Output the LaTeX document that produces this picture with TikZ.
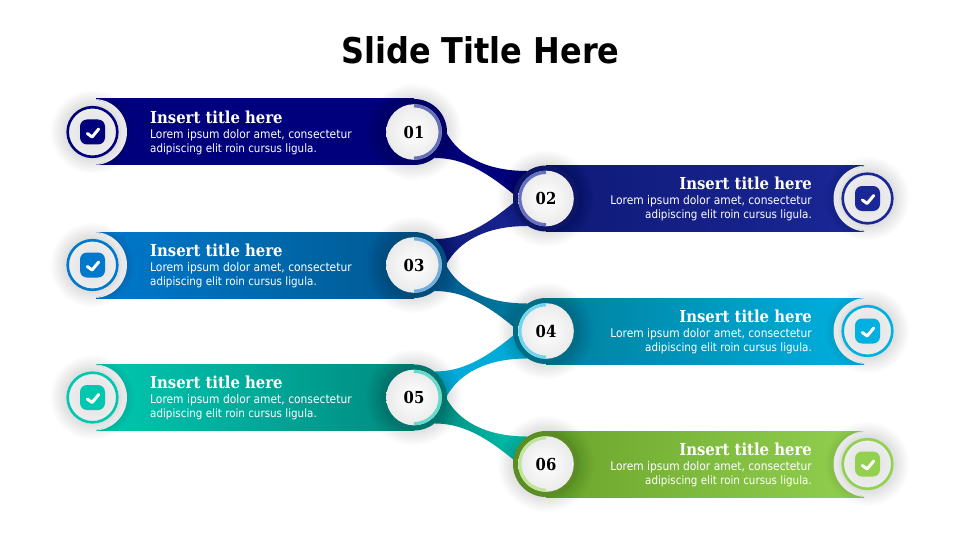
\documentclass[tikz,border=0pt]{standalone}
\usepackage{fontspec}
\setmainfont{DejaVu Sans Condensed}
\newfontfamily\headfont{DejaVu Serif Condensed}
\usetikzlibrary{calc}
\definecolor{dkA}{HTML}{00007C}\definecolor{ltA}{HTML}{00007C}\definecolor{acA}{HTML}{6670B8}
\definecolor{dkB}{HTML}{0F1A78}\definecolor{ltB}{HTML}{1A2796}\definecolor{acB}{HTML}{6670C0}
\definecolor{dkC}{HTML}{005A92}\definecolor{ltC}{HTML}{0078CC}\definecolor{acC}{HTML}{74AEDC}
\definecolor{dkD}{HTML}{00809E}\definecolor{ltD}{HTML}{00B0E0}\definecolor{acD}{HTML}{70D4EE}
\definecolor{dkE}{HTML}{008A80}\definecolor{ltE}{HTML}{00C8B0}\definecolor{acE}{HTML}{66D8CC}
\definecolor{dkF}{HTML}{6CA62C}\definecolor{ltF}{HTML}{92D050}\definecolor{acF}{HTML}{C0E49A}
\tikzset{
	numdisc/.style={circle,minimum size=55.6pt,inner sep=0pt,inner color=white,outer color=black!8,font=\headfont\fontsize{16.5}{16.5}\bfseries},
	headtext/.style={inner sep=0pt,font=\headfont\fontsize{16.5}{16.5}\bfseries,text=white},
	bodytext/.style={inner sep=0pt,font=\fontsize{11.9}{14}\selectfont,text=white},
	icondisc/.style={circle,minimum size=49.6pt,inner sep=0pt,line width=2.6pt,inner color=black!12,outer color=black!7},
	iconbox/.style={rounded corners=7pt,minimum size=25pt,inner sep=0pt},
	crescent/.style={fill=black!9},
}
% soft shadow round a disc
\newcommand{\softshade}[2]{
	\foreach \r in {0,1.5,...,15}{
		\fill[black,opacity=0.011] (#1) circle (#2pt+\r pt);
	}
}
% curved link from disc #1 to the disc #2 on its right, #3 = 1 down, -1 up
\newcommand{\curvelink}[4]{
	\shade[#4] ($(#1)+(32,{#3*0})$) .. controls ($(#1)+(44,{#3*23})$) and ($(#2)+(-61,{#3*-27.5})$) .. ($(#2)+(-19,{#3*-27.5})$)
		-- ($(#2)+(-31,{#3*-3})$) .. controls ($(#2)+(-61,{#3*-28})$) and ($(#1)+(48,{#3*26})$) .. ($(#1)+(21,{#3*26})$) -- cycle;
}
\newcommand{\rowbody}{Lorem ipsum dolor amet, consectetur\\{\fontsize{11.5}{14}\selectfont adipiscing elit roin cursus ligula.}}
\begin{document}
\begin{tikzpicture}[x=1pt,y=-1pt,line join=round,line cap=round]
	\useasboundingbox (0,0) rectangle (960,540);
	\fill[white] (0,0) rectangle (960,540);
	\node[font=\fontsize{35.5}{35.5}\bfseries] (slidetitle) at (480.5,50) {Slide Title Here};
	% places of the number discs
	\foreach \i/\x/\y in {1/414/132,2/546/198.5,3/414/265,4/546/331,5/414/397.5,6/546/464}{
		\coordinate (P\i) at (\x,\y);
	}
	\curvelink{P1}{P2}{1}{left color=dkA,right color=dkA}
	\curvelink{P3}{P2}{-1}{left color=dkB,right color=ltB}
	\curvelink{P3}{P4}{1}{left color=dkC,right color=dkD}
	\curvelink{P5}{P4}{-1}{left color=ltD!90!dkD,right color=ltD!90!dkD}
	\curvelink{P5}{P6}{1}{left color=dkE,right color=ltE}
	% left rows
	\foreach \i/\c in {1/A,3/C,5/E}{
		\shade[left color=lt\c,right color=dk\c] ($(P\i)+(-318,-33)$) rectangle ($(P\i)+(0,33)$);
		\fill[white] ($(P\i)+(-324,0)$) circle (33pt);
		\softshade{$(P\i)+(-321.5,0)$}{27}
		\fill[crescent] ($(P\i)+(-320,0)$) ++(-88:33) arc (-88:88:33) arc (78:-78:33.7) -- cycle;
		\softshade{P\i}{33}
		\fill[dk\c!85!black] (P\i) circle (33pt);
		\node[numdisc] (num\i) at (P\i) {0\i};
		\draw[ac\c,line width=3.2pt,line cap=butt] ($(P\i)+(0,-26.2)$) arc (-90:90:26.2);
		\node[icondisc,draw=lt\c] (ring\i) at ($(P\i)+(-321.5,0)$) {};
		\node[iconbox,fill=lt\c] (badge\i) at (ring\i) {};
		\draw[white,line width=3pt] ($(badge\i)+(-5.2,1.5)$) -- ($(badge\i)+(-0.4,5)$) -- ($(badge\i)+(6.2,-3)$);
		\node[headtext,anchor=west] (head\i) at ($(P\i)+(-264,-15)$) {Insert title here};
		\node[bodytext,anchor=west,align=left] (body\i) at ($(P\i)+(-264,10)$) {\rowbody};
	}
	% right rows
	\foreach \i/\c in {2/B,4/D,6/F}{
		\shade[left color=dk\c,right color=lt\c] ($(P\i)+(0,-33)$) rectangle ($(P\i)+(318,33)$);
		\fill[white] ($(P\i)+(324.5,0)$) circle (33pt);
		\softshade{$(P\i)+(321.5,0)$}{27}
		\fill[crescent] ($(P\i)+(320.5,0)$) ++(-92:33) arc (-92:-268:33) arc (102:258:33.7) -- cycle;
		\softshade{P\i}{33}
		\fill[dk\c!85!black] (P\i) circle (33pt);
		\node[numdisc] (num\i) at (P\i) {0\i};
		\draw[ac\c,line width=3.2pt,line cap=butt] ($(P\i)+(0,-26.2)$) arc (-90:-270:26.2);
		\node[icondisc,draw=lt\c] (ring\i) at ($(P\i)+(321.5,0)$) {};
		\node[iconbox,fill=lt\c] (badge\i) at (ring\i) {};
		\draw[white,line width=3pt] ($(badge\i)+(-5.2,1.5)$) -- ($(badge\i)+(-0.4,5)$) -- ($(badge\i)+(6.2,-3)$);
		\node[headtext,anchor=east] (head\i) at ($(P\i)+(266,-15)$) {Insert title here};
		\node[bodytext,anchor=east,align=right] (body\i) at ($(P\i)+(266,10)$) {\rowbody};
	}
\end{tikzpicture}
\end{document}
